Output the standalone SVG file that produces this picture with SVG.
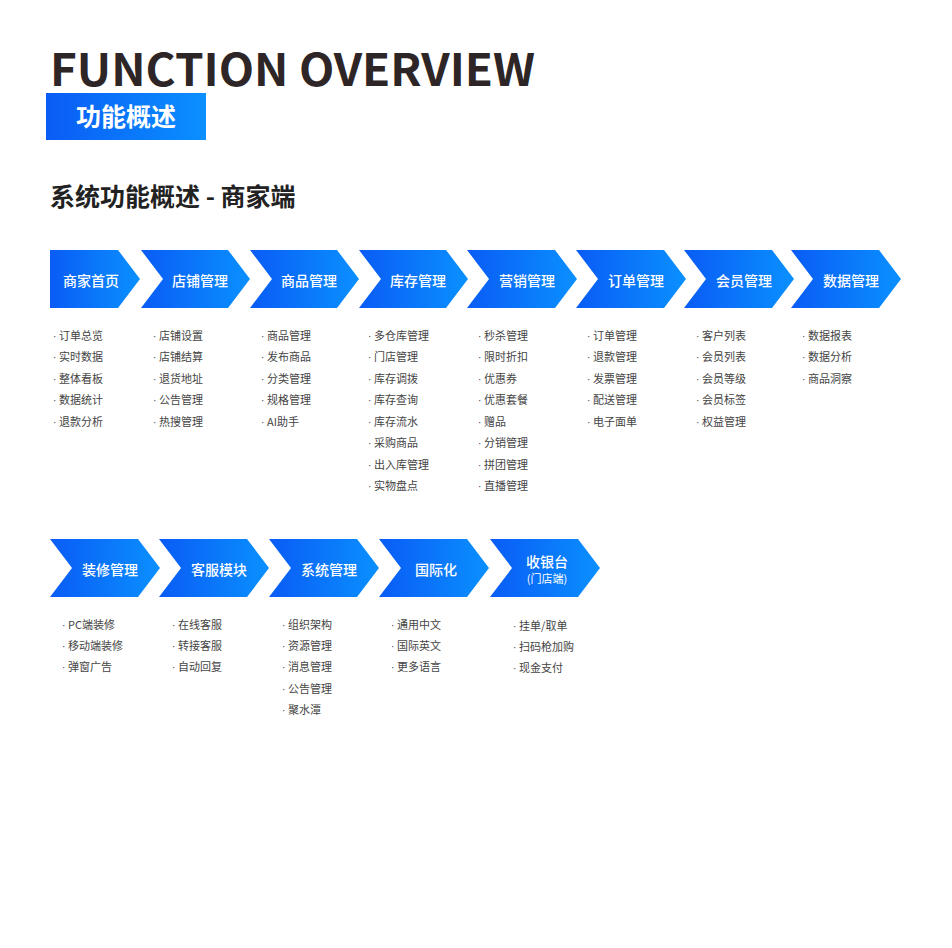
<svg xmlns="http://www.w3.org/2000/svg" width="952" height="948" viewBox="0 0 952 948">
<defs>
<linearGradient id="g" x1="0" y1="0" x2="1" y2="0"><stop offset="0" stop-color="#0a5cf5"/><stop offset="1" stop-color="#0a90ff"/></linearGradient>
<style>
.t{font-family:"Noto Sans CJK SC","Noto Sans",sans-serif;}
.h{font-size:14px;fill:#fff;text-anchor:middle;font-weight:500}
.l{font-size:11px;fill:#444}
.b{font-family:"Liberation Sans",sans-serif;font-size:10px}
</style>
</defs>
<rect width="952" height="948" fill="#fff"/>
<text class="t" x="50" y="86" font-size="44" font-weight="700" fill="#2e2626" textLength="485" lengthAdjust="spacingAndGlyphs">FUNCTION OVERVIEW</text>
<rect x="46" y="93" width="160" height="47" fill="url(#g)"/>
<text class="t" x="126" y="126" font-size="25" font-weight="700" fill="#fff" text-anchor="middle">功能概述</text>
<text class="t" x="50" y="206" font-size="25" font-weight="700" fill="#222">系统功能概述 - 商家端</text>
<g id="connectors"/>
<g id="row1">
<g id="n1"><path d="M50 250H118L140 279L118 308H50Z" fill="url(#g)"/><text class="t h" x="91" y="286">商家首页</text></g>
<g id="n2"><path d="M141 250H228L250 279L228 308H141L163 279Z" fill="url(#g)"/><text class="t h" x="200" y="286">店铺管理</text></g>
<g id="n3"><path d="M250 250H337L359 279L337 308H250L272 279Z" fill="url(#g)"/><text class="t h" x="309" y="286">商品管理</text></g>
<g id="n4"><path d="M359 250H446L468 279L446 308H359L381 279Z" fill="url(#g)"/><text class="t h" x="418" y="286">库存管理</text></g>
<g id="n5"><path d="M467 250H555L577 279L555 308H467L489 279Z" fill="url(#g)"/><text class="t h" x="527" y="286">营销管理</text></g>
<g id="n6"><path d="M576 250H664L686 279L664 308H576L598 279Z" fill="url(#g)"/><text class="t h" x="636" y="286">订单管理</text></g>
<g id="n7"><path d="M684 250H772L794 279L772 308H684L706 279Z" fill="url(#g)"/><text class="t h" x="744" y="286">会员管理</text></g>
<g id="n8"><path d="M791 250H879L901 279L879 308H791L813 279Z" fill="url(#g)"/><text class="t h" x="851" y="286">数据管理</text></g>
</g>
<g id="lists1" class="t l">
<text x="53" y="340"><tspan class="b">· </tspan>订单总览</text><text x="53" y="361"><tspan class="b">· </tspan>实时数据</text><text x="53" y="383"><tspan class="b">· </tspan>整体看板</text><text x="53" y="404"><tspan class="b">· </tspan>数据统计</text><text x="53" y="426"><tspan class="b">· </tspan>退款分析</text>
<text x="153" y="340"><tspan class="b">· </tspan>店铺设置</text><text x="153" y="361"><tspan class="b">· </tspan>店铺结算</text><text x="153" y="383"><tspan class="b">· </tspan>退货地址</text><text x="153" y="404"><tspan class="b">· </tspan>公告管理</text><text x="153" y="426"><tspan class="b">· </tspan>热搜管理</text>
<text x="261" y="340"><tspan class="b">· </tspan>商品管理</text><text x="261" y="361"><tspan class="b">· </tspan>发布商品</text><text x="261" y="383"><tspan class="b">· </tspan>分类管理</text><text x="261" y="404"><tspan class="b">· </tspan>规格管理</text><text x="261" y="426"><tspan class="b">· </tspan>AI助手</text>
<text x="368" y="340"><tspan class="b">· </tspan>多仓库管理</text><text x="368" y="361"><tspan class="b">· </tspan>门店管理</text><text x="368" y="383"><tspan class="b">· </tspan>库存调拨</text><text x="368" y="404"><tspan class="b">· </tspan>库存查询</text><text x="368" y="426"><tspan class="b">· </tspan>库存流水</text><text x="368" y="447"><tspan class="b">· </tspan>采购商品</text><text x="368" y="469"><tspan class="b">· </tspan>出入库管理</text><text x="368" y="490"><tspan class="b">· </tspan>实物盘点</text>
<text x="478" y="340"><tspan class="b">· </tspan>秒杀管理</text><text x="478" y="361"><tspan class="b">· </tspan>限时折扣</text><text x="478" y="383"><tspan class="b">· </tspan>优惠券</text><text x="478" y="404"><tspan class="b">· </tspan>优惠套餐</text><text x="478" y="426"><tspan class="b">· </tspan>赠品</text><text x="478" y="447"><tspan class="b">· </tspan>分销管理</text><text x="478" y="469"><tspan class="b">· </tspan>拼团管理</text><text x="478" y="490"><tspan class="b">· </tspan>直播管理</text>
<text x="587" y="340"><tspan class="b">· </tspan>订单管理</text><text x="587" y="361"><tspan class="b">· </tspan>退款管理</text><text x="587" y="383"><tspan class="b">· </tspan>发票管理</text><text x="587" y="404"><tspan class="b">· </tspan>配送管理</text><text x="587" y="426"><tspan class="b">· </tspan>电子面单</text>
<text x="696" y="340"><tspan class="b">· </tspan>客户列表</text><text x="696" y="361"><tspan class="b">· </tspan>会员列表</text><text x="696" y="383"><tspan class="b">· </tspan>会员等级</text><text x="696" y="404"><tspan class="b">· </tspan>会员标签</text><text x="696" y="426"><tspan class="b">· </tspan>权益管理</text>
<text x="802" y="340"><tspan class="b">· </tspan>数据报表</text><text x="802" y="361"><tspan class="b">· </tspan>数据分析</text><text x="802" y="383"><tspan class="b">· </tspan>商品洞察</text>
</g>
<g id="row2">
<g id="m1"><path d="M50 539H138L160 568L138 597H50L72 568Z" fill="url(#g)"/><text class="t h" x="110" y="575">装修管理</text></g>
<g id="m2"><path d="M159 539H247L269 568L247 597H159L181 568Z" fill="url(#g)"/><text class="t h" x="219" y="575">客服模块</text></g>
<g id="m3"><path d="M269 539H357L379 568L357 597H269L291 568Z" fill="url(#g)"/><text class="t h" x="329" y="575">系统管理</text></g>
<g id="m4"><path d="M379 539H467L489 568L467 597H379L401 568Z" fill="url(#g)"/><text class="t h" x="436" y="575">国际化</text></g>
<g id="m5"><path d="M490 539H578L600 568L578 597H490L512 568Z" fill="url(#g)"/><text class="t h" x="547" y="567">收银台</text><text class="t" x="547" y="583" font-size="11" fill="#fff" text-anchor="middle">(门店端)</text></g>
</g>
<g id="lists2" class="t l">
<text x="62" y="629"><tspan class="b">· </tspan>PC端装修</text><text x="62" y="650"><tspan class="b">· </tspan>移动端装修</text><text x="62" y="671"><tspan class="b">· </tspan>弹窗广告</text>
<text x="172" y="629"><tspan class="b">· </tspan>在线客服</text><text x="172" y="650"><tspan class="b">· </tspan>转接客服</text><text x="172" y="671"><tspan class="b">· </tspan>自动回复</text>
<text x="282" y="629"><tspan class="b">· </tspan>组织架构</text><text x="282" y="650"><tspan class="b">· </tspan>资源管理</text><text x="282" y="671"><tspan class="b">· </tspan>消息管理</text><text x="282" y="693"><tspan class="b">· </tspan>公告管理</text><text x="282" y="714"><tspan class="b">· </tspan>聚水潭</text>
<text x="391" y="629"><tspan class="b">· </tspan>通用中文</text><text x="391" y="650"><tspan class="b">· </tspan>国际英文</text><text x="391" y="671"><tspan class="b">· </tspan>更多语言</text>
<text x="513" y="630"><tspan class="b">· </tspan>挂单/取单</text><text x="513" y="651"><tspan class="b">· </tspan>扫码枪加购</text><text x="513" y="672"><tspan class="b">· </tspan>现金支付</text>
</g>
</svg>
